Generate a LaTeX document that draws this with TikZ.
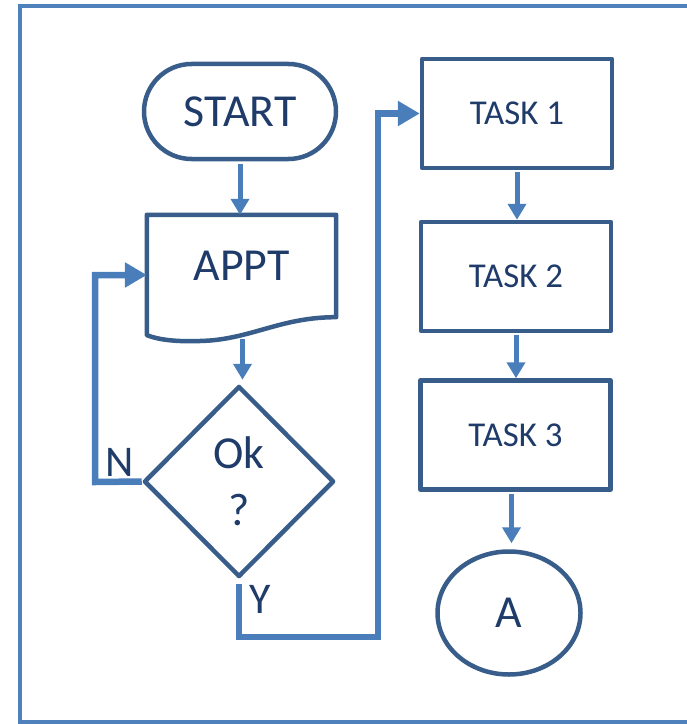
\documentclass[tikz,border=0pt]{standalone}
\usepackage{fontspec}
\setmainfont{Carlito}
\usetikzlibrary{shapes.geometric,arrows.meta}
\definecolor{frameblue}{HTML}{4F81BD}
\definecolor{shapeblue}{HTML}{385D8A}
\definecolor{linkblue}{HTML}{4A7EBB}
\definecolor{textnavy}{HTML}{1F3B6A}

\begin{document}
\begin{tikzpicture}[x=1bp,y=-1bp,
  shapeline/.style={draw=shapeblue,line width=4.5bp,text=textnavy,inner sep=0pt,line join=round},
  procbox/.style={shapeline,rectangle,minimum width=190bp,minimum height=109bp,
    font=\fontsize{35}{42}\selectfont},
  bigtext/.style={font=\fontsize{46}{57}\selectfont},
  labeltext/.style={text=textnavy,font=\fontsize{44}{50}\selectfont,inner sep=0pt},
  arrowlink/.style={draw=linkblue,line width=5bp,
    -{Triangle[length=16bp,width=18bp]}},
  looplink/.style={draw=linkblue,line width=6.5bp,line join=miter,
    -{Triangle[length=22bp,width=24bp]}},
]
\useasboundingbox (0,0) rectangle (687,724);
\clip (0,0) rectangle (687,724);

% outer frame, running off the right edge
\draw[frameblue,line width=4bp] (20,6) rectangle (760,722);

% left column
\node[shapeline,rounded corners=47.5bp,minimum width=192bp,minimum height=95bp,bigtext]
  (start) at (240,111.5) {START};

\node[inner sep=0pt,minimum width=189bp,minimum height=102bp,text=textnavy,bigtext]
  (appt) at (241.5,266) {APPT};
\draw[shapeline] (appt.north west) -- (appt.north east) -- (appt.south east)
  .. controls (280,317) and (250,340) .. (200,341)
  .. controls (172,342) and (157,339) .. ([yshift=-18bp]appt.south west) -- cycle;

\node[shapeline,diamond,minimum width=190bp,minimum height=191bp,align=center,bigtext]
  (dec) at (239,481.5) {Ok\\?};

% right column
\node[procbox] (task1) at (517,113.5) {TASK 1};
\node[procbox] (task2) at (516,276.5) {TASK 2};
\node[procbox] (task3) at (515.5,435) {TASK 3};
\node[shapeline,ellipse,minimum width=143bp,minimum height=123bp,bigtext]
  (endA) at (509,613) {A};

% helper points for the loops
\coordinate (nloop) at (95,482);
\coordinate (apptin) at ([yshift=-9bp]appt.west);
\coordinate (yturn) at (378,637);

% straight links
\draw[arrowlink,shorten <=3bp] (start.south) -- (start.south |- appt.north);
\draw[arrowlink,shorten <=22bp,shorten >=4bp] ([xshift=1bp]appt.south) -- ([xshift=1bp]appt.south |- dec.north);
\draw[arrowlink,shorten <=2bp] (task1.south) -- (task1.south |- task2.north);
\draw[arrowlink,shorten <=2bp] (task2.south) -- (task2.south |- task3.north);
\draw[arrowlink,shorten <=2bp,shorten >=6bp] ([xshift=-4bp]task3.south) -- ([xshift=-4bp]task3.south |- endA.north);

% decision branches
\draw[looplink] (dec.west) -- (nloop) |- (apptin);
\draw[looplink,shorten <=5bp] (dec.south) |- (yturn) |- (task1.west);

\node[labeltext] (nlab) at (120,462) {N};
\node[labeltext] (ylab) at (260,599) {Y};
\end{tikzpicture}
\end{document}
